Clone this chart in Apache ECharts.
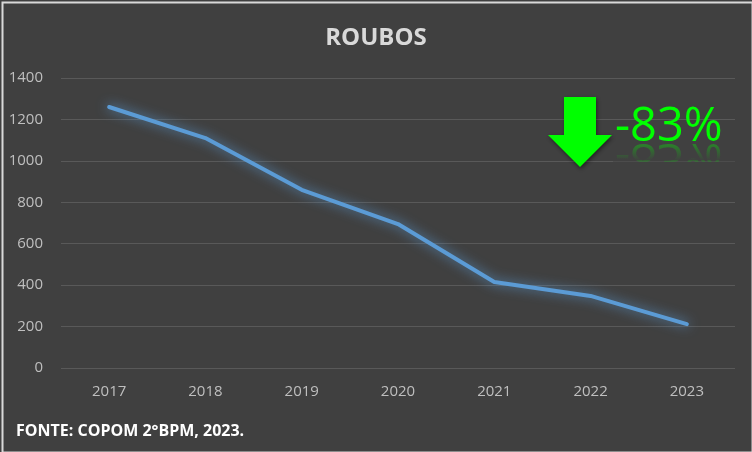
<!DOCTYPE html>
<html><head><meta charset="utf-8">
<script src="https://cdn.jsdelivr.net/npm/echarts@6/dist/echarts.min.js"></script>
<style>html,body{margin:0;padding:0;background:#404040;}#c{width:752px;height:452px;}</style>
</head><body><div id="c"></div>
<script>
var categories = ['2017','2018','2019','2020','2021','2022','2023'];
var roubos = [1260, 1110, 860, 695, 415, 348, 212];
var yTicks = {min: 0, max: 1400, interval: 200};
var titleText = 'ROUBOS';
var sourceText = 'FONTE: COPOM 2°BPM, 2023.';
var changeText = '-83%';

var chart = echarts.init(document.getElementById('c'), null, {renderer: 'canvas'});
chart.setOption({
  backgroundColor: '#404040',
  animation: false,
  title: {
    text: titleText, left: 'center', top: 21,
    textStyle: {color: '#d9d9d9', fontFamily: 'Open Sans', fontWeight: 'bold', fontSize: 24}
  },
  grid: {left: 61, right: 17, top: 78, bottom: 84},
  xAxis: {
    type: 'category', data: categories, boundaryGap: true,
    axisLine: {show: false}, axisTick: {show: false},
    axisLabel: {color: '#bfbfbf', fontFamily: 'Open Sans', fontSize: 15, margin: 16}
  },
  yAxis: {
    type: 'value', min: yTicks.min, max: yTicks.max, interval: yTicks.interval,
    axisLine: {show: false}, axisTick: {show: false},
    axisLabel: {color: '#bfbfbf', fontFamily: 'Open Sans', fontSize: 15, margin: 18,
      formatter: function (v) { return String(v); }},
    splitLine: {lineStyle: {color: '#595959', width: 1}}
  },
  series: [{
    type: 'line', data: roubos, symbol: 'none', smooth: false,
    lineStyle: {color: '#5b9bd5', width: 4, shadowColor: 'rgba(91,155,213,0.9)', shadowBlur: 12, cap: 'round'}
  }],
  graphic: [
    {type: 'rect', left: 0, top: 0, shape: {x: 1, y: 1, width: 750, height: 450},
     style: {fill: 'none', stroke: '#d9d9d9', lineWidth: 2}, z: 100},
    {type: 'polygon', shape: {points: [[564,97],[596,97],[596,135],[612,135],[580,167],[548,135],[564,135]]},
     style: {fill: '#00ff00', shadowColor: 'rgba(0,0,0,0.5)', shadowBlur: 4, shadowOffsetX: 1, shadowOffsetY: 2}, z: 50},
    {type: 'text', x: 615, y: 151, style: {text: changeText, fill: '#00ff00', font: '47px "Open Sans"', textVerticalAlign: 'bottom'}, z: 50},
    {type: 'text', x: 615, y: 134, scaleY: -1, style: {text: changeText, fill: 'rgba(0,255,0,0.35)',
      font: '47px "Open Sans"', textVerticalAlign: 'bottom'}, z: 49},
    {type: 'rect', shape: {x: 613, y: 144, width: 125, height: 16.5},
     style: {fill: new echarts.graphic.LinearGradient(0, 0, 0, 1, [
       {offset: 0, color: 'rgba(64,64,64,0)'}, {offset: 1, color: 'rgba(64,64,64,1)'}])}, z: 49.5},
    {type: 'rect', shape: {x: 613, y: 161.5, width: 125, height: 25},
     style: {fill: '#404040'}, z: 49.5},
    {type: 'text', left: 16, top: 423, style: {text: sourceText, fill: '#ffffff', font: 'bold 16px "Open Sans"'}, z: 50}
  ]
});
</script></body></html>
